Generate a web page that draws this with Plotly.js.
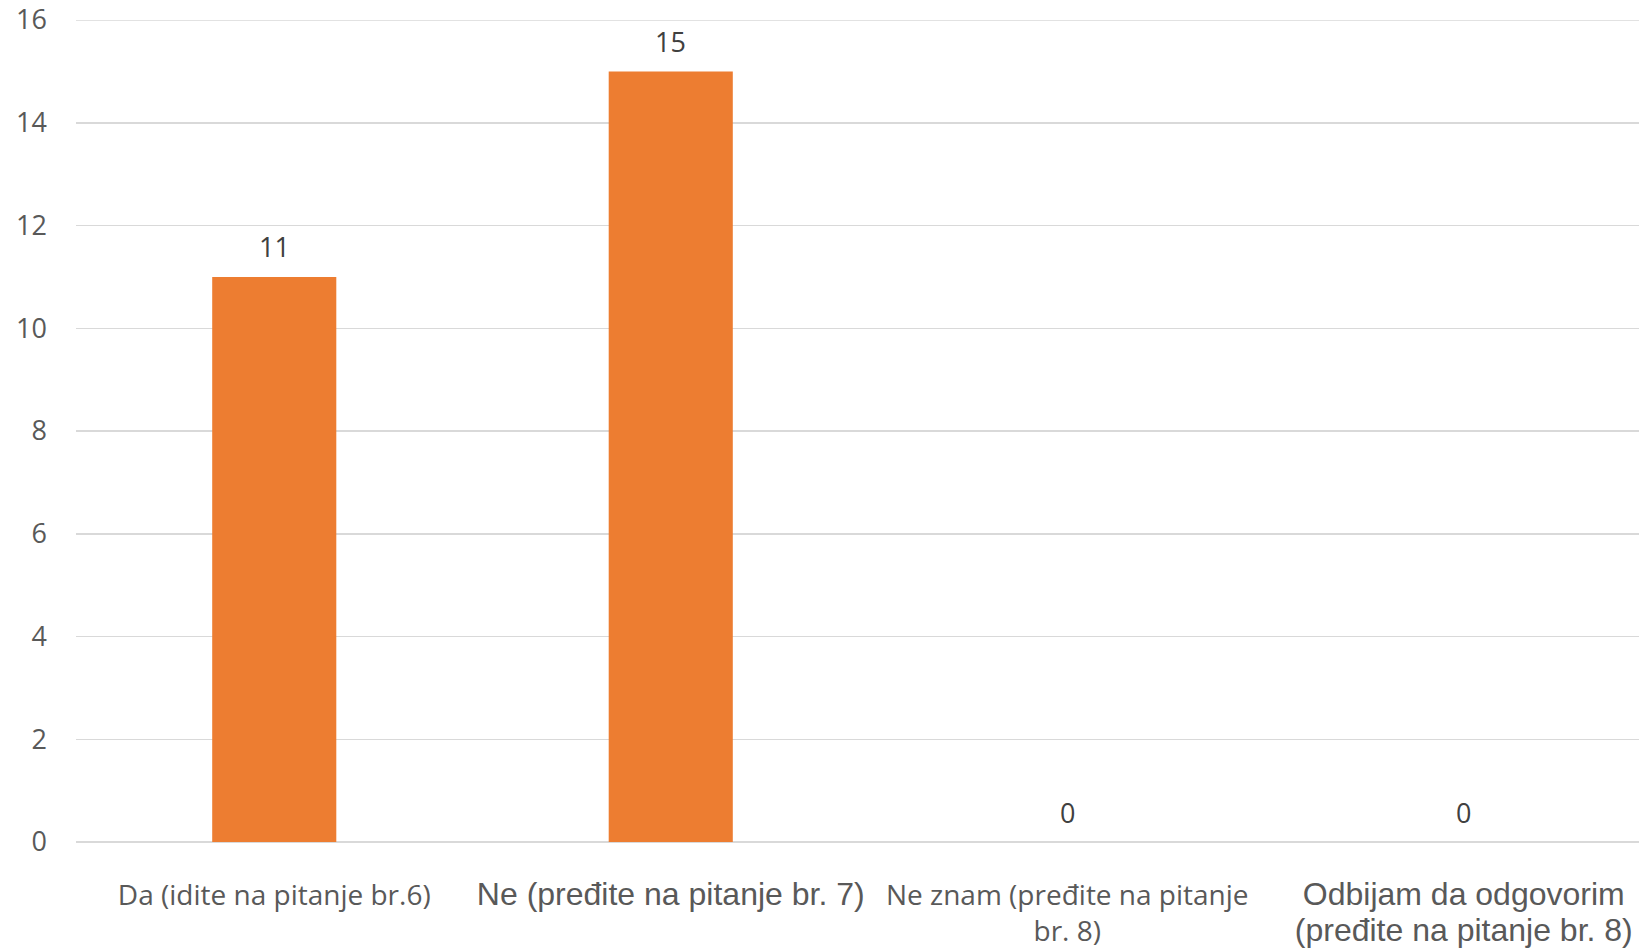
<!DOCTYPE html>
<html>
<head>
<meta charset="utf-8">
<script src="https://cdn.plot.ly/plotly-3.0.1.min.js"></script>
<style>html,body{margin:0;padding:0;background:#fff;}</style>
</head>
<body>
<div id="chart" style="width:1639px;height:951px;"></div>
<script>
// Data
const categories = [
  "Da (idite na pitanje br.6)",
  "Ne (pređite na pitanje br. 7)",
  "Ne znam (pređite na pitanje br. 8)",
  "Odbijam da odgovorim (pređite na pitanje br. 8)"
];
const tickLabels = [
  "Da (idite na pitanje br.6)",
  "Ne (pređite na pitanje br. 7)",
  "Ne znam (pređite na pitanje<br>br. 8)",
  "Odbijam da odgovorim<br>(pređite na pitanje br. 8)"
];
const values = [11, 15, 0, 0];
const yTicks = [0, 2, 4, 6, 8, 10, 12, 14, 16];

// Styling of individual labels (reference mixes two typefaces)
const arialLabel = [false, true, false, true];
const styledTicks = tickLabels.map((t, i) => arialLabel[i]
  ? t.split('<br>').map(s => '<span style="font-family:Liberation Sans, Arial;font-size:32px">' + s + '</span>').join('<br>')
  : t);

const yMax = Math.max(...yTicks);

const trace = {
  type: 'bar',
  x: categories,
  y: values,
  marker: {color: '#ED7D31'},
  width: 0.313,
  hoverinfo: 'x+y'
};

const annotations = categories.map((c, i) => ({
  x: c, y: values[i], xref: 'x', yref: 'y',
  text: String(values[i]), showarrow: false,
  yanchor: 'middle', yshift: 30,
  font: {family: 'Open Sans', size: 27, color: '#404040'}
}));

const layout = {
  width: 1639, height: 951,
  margin: {l: 76, r: 0, t: 20, b: 109},
  paper_bgcolor: '#ffffff', plot_bgcolor: '#ffffff',
  showlegend: false,
  font: {family: 'Open Sans', color: '#595959'},
  xaxis: {
    type: 'category',
    tickmode: 'array', tickvals: categories, ticktext: styledTicks,
    range: [-0.5, 3.442],
    showgrid: false, zeroline: false, showline: false,
    ticks: '', automargin: false,
    tickfont: {family: 'Open Sans', size: 28, color: '#595959'},
    ticklabelstandoff: 34
  },
  yaxis: {
    range: [0, yMax], tickmode: 'array', tickvals: yTicks,
    showgrid: true, gridcolor: '#d9d9d9', gridwidth: 1.5,
    zeroline: true, zerolinecolor: '#d9d9d9', zerolinewidth: 1.5,
    showline: false, ticks: '', automargin: false,
    tickfont: {family: 'Open Sans', size: 27, color: '#595959'},
    ticklabelstandoff: 28
  },
  shapes: [{
    type: 'line', layer: 'below', xref: 'paper', x0: 0, x1: 1,
    yref: 'y', y0: yMax, y1: yMax,
    line: {color: '#d9d9d9', width: 1.5}
  }],
  annotations: annotations
};

Plotly.newPlot('chart', [trace], layout, {displayModeBar: false, staticPlot: true});
</script>
</body>
</html>
